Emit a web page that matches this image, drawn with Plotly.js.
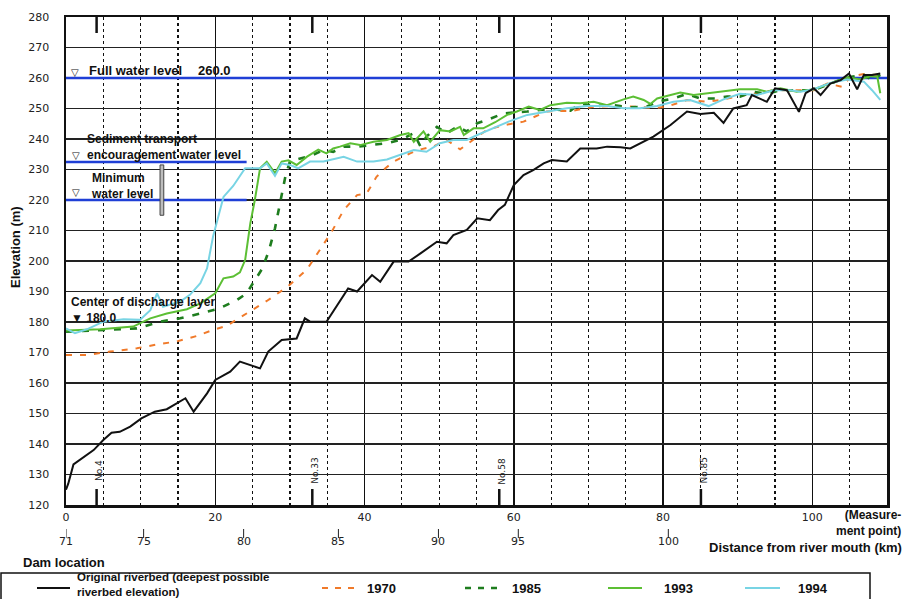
<!DOCTYPE html>
<html><head><meta charset="utf-8">
<script src="https://cdn.plot.ly/plotly-3.0.1.min.js"></script>
<style>html,body{margin:0;padding:0;background:#fff}#chart{width:903px;height:599px}</style>
</head><body><div id="chart"></div>
<script>
// ---- data (x = measurement point, y = elevation m) ----
const originalX = [0, 0.3, 1, 1.9, 3.7, 5, 6.1, 7.2, 8.6, 10.1, 11.9, 13.5, 16, 17.1, 18.9, 20, 22, 23.3, 26, 27.1, 28.9, 30.9, 32, 32.7, 34.9, 37.8, 39, 41, 42.1, 43.9, 45.9, 47.5, 49.7, 51, 51.9, 53.7, 55.1, 56.8, 57.9, 58.8, 60, 61.3, 62.6, 64, 65.1, 67.1, 68.9, 71.1, 72.5, 74.3, 75.6, 78.7, 81, 83.2, 85, 86.8, 88.1, 89.4, 91.2, 91.9, 93.9, 95, 96.6, 98.2, 99.1, 100.2, 101.1, 102.4, 103.8, 104.9, 106, 106.9, 108, 109.1];
const originalY = [125, 127, 133.3, 134.8, 138, 141.3, 143.7, 144, 145.7, 148.4, 150.6, 151.4, 155, 150.6, 156.6, 161, 163.7, 167, 164.8, 170.3, 174.1, 174.6, 181.2, 180.1, 180.1, 191, 190, 195.4, 193.2, 199.8, 199.8, 202.5, 206.3, 205.8, 208.5, 210.2, 214, 213.4, 216.7, 218.4, 224.9, 228.2, 229.8, 232, 233.1, 232.6, 236.9, 236.9, 237.5, 237.3, 236.9, 240.8, 244.6, 249, 248.2, 248.6, 245.3, 250, 251.1, 254.4, 252.2, 256.6, 256, 248.9, 255, 256.6, 254.4, 258.2, 259.3, 261.5, 256.3, 261, 261, 261.5];

const y1970X = [0, 2.8, 5.9, 9.5, 12.6, 14.8, 17.5, 19.7, 21.5, 24.2, 26.9, 29.7, 32.3, 34, 35.6, 37.2, 39, 40.3, 41.6, 42.8, 43.9, 46.1, 47.5, 49.2, 51, 52.8, 54.6, 56.4, 58.6, 61.3, 64.4, 68, 70.7, 73.4, 76.5, 78.7, 80.5, 83.2, 85.9, 87.7, 89.9, 92.6, 94.8, 97.9, 100.2, 102, 104, 105.1, 106.9, 108.7];
const y1970Y = [169.2, 169.2, 170.3, 171.4, 172.8, 173.6, 175.4, 177.4, 178.7, 182.8, 186.9, 191.6, 197.3, 203.6, 209.6, 216.7, 221.6, 222.2, 227.6, 230.4, 232.6, 235.3, 236.6, 237.5, 239.7, 236.6, 239.7, 243, 244.5, 245.7, 249, 249.3, 250.6, 250.8, 250.6, 250.1, 250.6, 252.8, 252.2, 252.8, 253.9, 255, 256, 256, 256, 258.2, 257.1, 260.4, 261.3, 261];

const y1985X = [0, 3.7, 6.8, 9.5, 12.6, 15.3, 18, 20.6, 22.9, 24.2, 25.1, 26.3, 27.2, 28, 28.6, 29, 29.4, 30, 31.4, 33.1, 34.5, 35.8, 37.2, 39, 40.8, 43, 44.8, 46.6, 47.5, 48.3, 49.7, 51, 52.4, 53.7, 55.1, 56.4, 58.6, 61.8, 64.4, 67.6, 68.9, 70.7, 73.4, 75.6, 77.8, 79.2, 81.4, 83.2, 85, 86.8, 88.6, 90.3, 92.1, 93.9, 95.7, 97.9, 100.2, 102.4, 104.7, 106.9, 108, 109.1];
const y1985Y = [176.8, 177.2, 177.6, 177.9, 180.1, 181.2, 182.8, 184.5, 187.2, 189.4, 192.9, 197.5, 203.5, 210.7, 218, 223.3, 227.8, 232.6, 233.7, 234.8, 236.4, 235.8, 237.5, 237.5, 238, 238.6, 239.7, 241.9, 237.5, 240.8, 244, 241.9, 244, 242.5, 245.2, 246.2, 248.4, 249, 249.8, 249.3, 251.7, 250.8, 251.1, 250.4, 250.6, 252.2, 253.3, 254.8, 253.3, 253.3, 253.9, 253.9, 255.5, 254.8, 256, 256, 256, 258.2, 260.2, 261, 259.3, 261];

const y1993X = [0, 4.6, 9, 11.3, 13.5, 16.2, 18, 20, 21.1, 22.4, 23.3, 24, 24.7, 25.3, 26, 26.9, 28, 28.9, 29.8, 30.9, 32.3, 33.8, 34.9, 35.8, 36.7, 38.1, 39.4, 41.2, 43, 44.8, 45.9, 46.6, 47.9, 48.8, 50.1, 51.5, 52.8, 53.3, 54.6, 55.9, 57.5, 59.1, 60.4, 62, 63.5, 64.9, 67.1, 68.9, 70.7, 72.5, 74.7, 76, 77.4, 78.3, 79.2, 80.5, 82.3, 84.1, 86.8, 88.6, 90.3, 92.6, 93.9, 95.7, 97.9, 100.2, 102.4, 103.8, 104.7, 106.4, 107.8, 108.7, 109.1];
const y1993Y = [177.2, 177.6, 178.5, 181.2, 182.8, 184.2, 186.1, 189.4, 194.3, 194.9, 196.3, 200.3, 212.4, 220, 230.4, 232.5, 228.8, 232.6, 233, 231.5, 234.2, 236.5, 235.3, 236.9, 237.5, 238.6, 238, 239.1, 239.7, 241.3, 241.9, 239.1, 242.5, 239.1, 242.9, 242.5, 244, 241.3, 243.5, 243.5, 245.5, 247.9, 249, 250.6, 249.5, 251.1, 251.9, 251.7, 252.2, 251.1, 253, 253.9, 252.8, 251.5, 253.3, 254.1, 255.2, 254.4, 255.2, 255.8, 256.3, 256.3, 255.5, 256.6, 255.5, 256.3, 258.2, 259.3, 260.2, 259.5, 260.6, 260.4, 255];

const y1994X = [0, 1.2, 2.8, 5, 7.7, 9.9, 11.3, 12.2, 13, 15.3, 16.6, 18, 18.9, 19.7, 21.1, 22.4, 24, 26, 26.9, 28, 28.9, 30, 31.1, 32.7, 34.5, 35.8, 37.2, 39, 41.2, 43, 44.8, 46.6, 48.3, 50.1, 51.9, 53.7, 55.1, 57.3, 59.3, 61.8, 64.4, 67.1, 69.8, 72.5, 74.7, 76.9, 79.2, 81.4, 83.6, 86.1, 88.1, 90.3, 92.6, 94.8, 97, 98.4, 100.2, 102.4, 104.7, 106.9, 108, 109.1];
const y1994Y = [177.9, 176.3, 177.6, 180.1, 180.9, 180.7, 183.9, 189.4, 185, 186.7, 188.9, 192.7, 197.6, 208, 221, 224.6, 230.4, 230.4, 232, 227.9, 232, 231.5, 230.4, 232.6, 232.6, 233.3, 234.2, 232.6, 232.6, 233.3, 234.8, 236.4, 235.8, 238.6, 239.7, 239.7, 241.3, 243.5, 245.7, 247.9, 249, 250.1, 250.8, 250.8, 250.1, 250.1, 250.8, 252.2, 252.8, 250.8, 253, 254.8, 254.4, 256, 256, 255.5, 256.3, 258.4, 259.5, 258.8, 256, 252.8];

// water levels
const levelNames = ['Full water level', 'Sediment transport encouragement water level', 'Minimum water level'];
const levelValues = [260, 232.5, 220];
const levelEnds = [110, 24.2, 24.2];

// measurement point markers
const markerLabels = ['No.4', 'No.33', 'No.58', 'No.85'];
const markerPoints = [4.1, 33, 58.05, 85.07];

// km scale below axis
const kmLabels = ['71', '75', '80', '85', '90', '95', '100'];
const kmPoints = [0, 10.4, 23.8, 36.5, 49.9, 60.6, 80.7];

// legend entries
const legendNames = ['Original riverbed (deepest possible<br>riverbed elevation)', '1970', '1985', '1993', '1994'];

// ---- style ----
const C = {black:'#111111', orange:'#f07a2a', dgreen:'#1e7d1e', green:'#5cbf34', cyan:'#78d4e4', blue:'#1f3fd6'};
const FAM = 'Liberation Sans, Arial, sans-serif';
const bold = {family:FAM, size:13, color:'#111'};
const bold12 = {family:FAM, size:12, color:'#111'};
const bold11 = {family:FAM, size:11.5, color:'#111'};
const px2x = p => (p - 66) / 821;   // paper x
const py2y = p => (505 - p) / 488;  // paper y

const traces = [];
levelValues.forEach((v, i) => {
  traces.push({x:[0, levelEnds[i]], y:[v, v], mode:'lines', name:levelNames[i],
    line:{color:C.blue, width:2.5}, hoverinfo:'skip', showlegend:false});
});
traces.push({x:y1970X, y:y1970Y, mode:'lines', name:'1970', line:{color:C.orange, width:2, dash:'6px,8px'}, showlegend:false});
traces.push({x:y1985X, y:y1985Y, mode:'lines', name:'1985', line:{color:C.dgreen, width:2.6, dash:'7px,9px'}, showlegend:false});
traces.push({x:y1993X, y:y1993Y, mode:'lines', name:'1993', line:{color:C.green, width:2}, showlegend:false});
traces.push({x:y1994X, y:y1994Y, mode:'lines', name:'1994', line:{color:C.cyan, width:2}, showlegend:false});
traces.push({x:originalX, y:originalY, mode:'lines', name:'Original riverbed', line:{color:C.black, width:2}, showlegend:false});

const shapes = [];
const annotations = [];

// gray bar between level lines
shapes.push({type:'rect', xref:'x', yref:'y', x0:12.6, x1:13.1, y0:215, y1:231.5,
  fillcolor:'#bdbdbd', line:{color:'#444', width:1}});

// measurement point marker ticks (top and bottom) + labels
markerPoints.forEach((m, i) => {
  shapes.push({type:'line', xref:'x', yref:'paper', x0:m, x1:m, y0:0, y1:16/488, line:{color:'#111', width:2.5}});
  shapes.push({type:'line', xref:'x', yref:'paper', x0:m, x1:m, y0:1, y1:1-16/488, line:{color:'#111', width:2.5}});
  annotations.push({xref:'x', yref:'y', x:m + 0.35, y:131.2, text:markerLabels[i], textangle:-90, showarrow:false,
    font:{family:'DejaVu Sans, sans-serif', size:9, color:'#222'}});
});

// km scale
kmPoints.forEach((k, i) => {
  shapes.push({type:'line', xref:'x', yref:'paper', x0:k, x1:k, y0:py2y(529), y1:py2y(538), line:{color:'#222', width:1}});
  annotations.push({xref:'x', yref:'paper', x:k, y:py2y(541), text:kmLabels[i], showarrow:false, yanchor:'middle',
    font:{family:'DejaVu Sans, sans-serif', size:11, color:'#222'}});
});

function txt(xp, yp, t, anchor, font, align) {
  annotations.push({xref:'paper', yref:'paper', x:px2x(xp), y:py2y(yp), text:t, showarrow:false,
    xanchor:anchor || 'left', yanchor:'middle', align:align || 'left', font:font || bold, borderpad:0});
}
const sym = {family:'DejaVu Sans, sans-serif', size:10, color:'#111'};

// level annotations
txt(70, 72, '▽', 'left', sym);
txt(88, 71, '<b>Full water level</b>');
txt(197, 71, '<b>260.0</b>');
txt(86, 147, '<b>Sediment transport<br>encouragement water level</b>', 'left', bold12);
txt(71, 155, '▽', 'left', sym);
txt(90, 186, '<b>Minimum<br>water level</b>', 'left', bold12);
txt(71, 192, '▽', 'left', sym);
txt(70, 310, '<b>Center of discharge layer<br>▼ 180.0</b>', 'left', bold12);

// axis extra labels
txt(902, 523, '<b>(Measure-<br>ment point)</b>', 'right', bold12, 'right');
txt(903, 547, '<b>Distance from river mouth (km)</b>', 'right');
txt(22, 562, '<b>Dam location</b>');
annotations.push({xref:'paper', yref:'paper', x:px2x(15), y:py2y(247), text:'<b>Elevation (m)</b>', textangle:-90,
  showarrow:false, xanchor:'center', yanchor:'middle', font:bold});

// manual legend
shapes.push({type:'rect', xref:'paper', yref:'paper', x0:px2x(1), x1:px2x(870), y0:py2y(573), y1:py2y(610),
  line:{color:'#111', width:1.5}, fillcolor:'rgba(0,0,0,0)'});
const legLines = [[37, 70, C.black, 'solid', 2], [322, 355, C.orange, '6px,7px', 2.2], [465, 498, C.dgreen, '6px,7px', 2.6], [608, 642, C.green, 'solid', 2], [745, 780, C.cyan, 'solid', 2.2]];
legLines.forEach(l => shapes.push({type:'line', xref:'paper', yref:'paper', x0:px2x(l[0]), x1:px2x(l[1]), y0:py2y(588), y1:py2y(588),
  line:{color:l[2], dash:l[3], width:l[4]}}));
txt(76, 584.5, '<b>' + legendNames[0] + '</b>', 'left', bold11);
txt(366, 588, '<b>' + legendNames[1] + '</b>');
txt(511, 588, '<b>' + legendNames[2] + '</b>');
txt(663, 588, '<b>' + legendNames[3] + '</b>');
txt(797, 588, '<b>' + legendNames[4] + '</b>');

const layout = {
  width:903, height:599,
  margin:{l:66, r:16, t:17, b:94},
  paper_bgcolor:'#fff', plot_bgcolor:'#fff',
  showlegend:false,
  xaxis:{range:[0, 110], dtick:20, tick0:0, showgrid:true, gridcolor:'#111', gridwidth:1.5,
    minor:{dtick:5, tick0:0, showgrid:true, gridcolor:'#111', gridwidth:1.2, griddash:'3px,3px'},
    showline:true, mirror:true, linecolor:'#111', linewidth:2.5, zeroline:false, ticks:'',
    tickfont:{family:'DejaVu Sans, sans-serif', size:11, color:'#222'}, fixedrange:true},
  yaxis:{range:[120, 280], dtick:10, tick0:120, showgrid:true, gridcolor:'#222', gridwidth:1.2,
    showline:true, mirror:true, linecolor:'#111', linewidth:2.5, zeroline:false, ticks:'',
    ticklabelstandoff:12,
    tickfont:{family:'DejaVu Sans, sans-serif', size:11, color:'#222'}, fixedrange:true},
  shapes:shapes, annotations:annotations
};
Plotly.newPlot('chart', traces, layout, {staticPlot:true, displayModeBar:false});
</script>
</body></html>
